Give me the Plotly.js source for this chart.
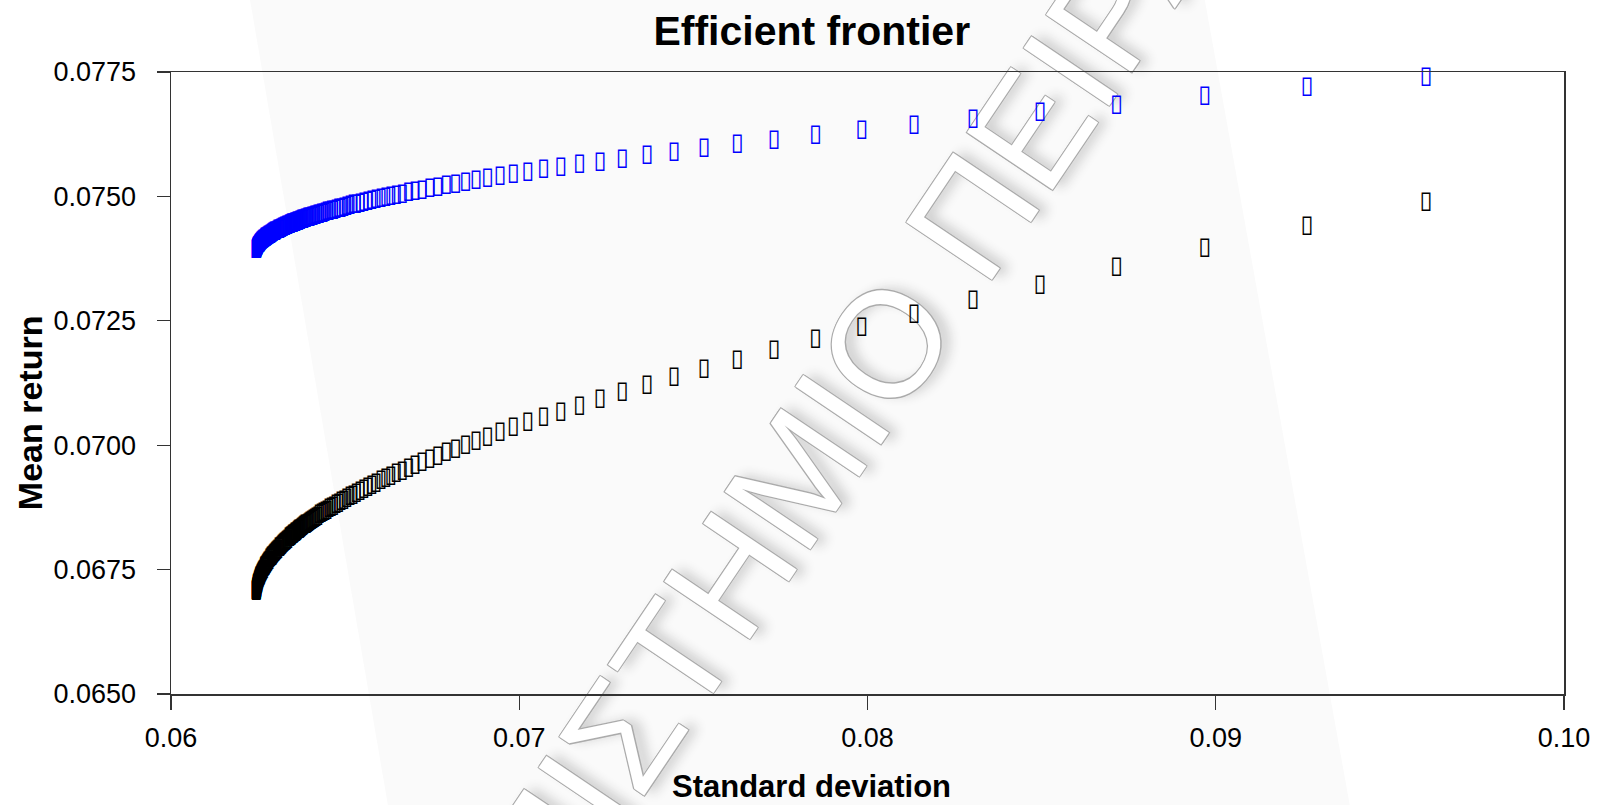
<!DOCTYPE html>
<html>
<head>
<meta charset="utf-8">
<script src="https://cdn.plot.ly/plotly-3.0.1.min.js"></script>
<style>
  html, body { margin: 0; padding: 0; background: #ffffff; }
  #chart { width: 1598px; height: 805px; }
</style>
</head>
<body>
<div id="chart"></div>
<script>
// Portfolio standard deviation shared by both frontier branches
const stdDev = [
  0.096038, 0.09262, 0.089689, 0.087156, 0.084955, 0.08303, 0.081335, 0.07984, 0.07851, 0.07732,
  0.07626, 0.075306, 0.074445, 0.07367, 0.07296, 0.07232, 0.07173, 0.071195, 0.0707, 0.07025,
  0.069834, 0.06945, 0.06909, 0.06876, 0.068457, 0.068176, 0.06791, 0.06766, 0.06743, 0.06721,
  0.06701, 0.06682, 0.06664, 0.06647, 0.066316, 0.066167, 0.06603, 0.06589, 0.06577, 0.06565,
  0.06554, 0.06543, 0.065326, 0.06523, 0.06514, 0.065048, 0.064965, 0.064886, 0.06481, 0.064738,
  0.064669, 0.064604, 0.064541, 0.06448, 0.064422, 0.064367, 0.064314, 0.064263, 0.064214, 0.064167,
  0.064122, 0.064079, 0.064037, 0.063997, 0.063958, 0.063921, 0.063885, 0.06385, 0.063817, 0.063785,
  0.063754, 0.063724, 0.063695, 0.063667, 0.063639, 0.063613, 0.063588, 0.063563, 0.063539, 0.063516,
  0.063494, 0.063472, 0.063451, 0.063431, 0.063411, 0.063392, 0.063355, 0.063321, 0.063288, 0.063257,
  0.063228, 0.0632, 0.063174, 0.063149, 0.063125, 0.063103, 0.063071, 0.063041, 0.063014, 0.062988,
  0.062964, 0.062942, 0.062921, 0.062901, 0.062882, 0.062865, 0.062838, 0.062814, 0.062791, 0.062771,
  0.062752, 0.062735, 0.06272, 0.062705, 0.062692, 0.062679, 0.062657, 0.062638, 0.062621, 0.062606,
  0.062593, 0.062582, 0.062572, 0.062562, 0.062554, 0.062547, 0.062534, 0.062523, 0.062514, 0.062506,
  0.0625, 0.062494, 0.06249, 0.062485, 0.062482, 0.062478, 0.062473, 0.062469, 0.062465, 0.062462,
  0.06246, 0.062457, 0.062454, 0.062452, 0.062451, 0.06245
];

// Mean return, upper (blue) branch
const meanUpper = [
  0.077399, 0.077193, 0.07701, 0.076846, 0.076698, 0.076565, 0.076443, 0.076332, 0.07623, 0.076137,
  0.07605, 0.07597, 0.075895, 0.075826, 0.075761, 0.075701, 0.075644, 0.075591, 0.075541, 0.075493,
  0.075449, 0.075406, 0.075366, 0.075328, 0.075292, 0.075258, 0.075225, 0.075194, 0.075164, 0.075135,
  0.075108, 0.075082, 0.075057, 0.075033, 0.07501, 0.074988, 0.074966, 0.074946, 0.074926, 0.074907,
  0.074889, 0.074871, 0.074854, 0.074838, 0.074822, 0.074806, 0.074791, 0.074777, 0.074763, 0.074749,
  0.074736, 0.074723, 0.074711, 0.074699, 0.074687, 0.074676, 0.074665, 0.074654, 0.074643, 0.074633,
  0.074623, 0.074614, 0.074604, 0.074595, 0.074586, 0.074577, 0.074569, 0.074561, 0.074553, 0.074545,
  0.074537, 0.074529, 0.074522, 0.074515, 0.074508, 0.074501, 0.074494, 0.074487, 0.074481, 0.074475,
  0.074468, 0.074462, 0.074456, 0.074451, 0.074445, 0.074439, 0.074428, 0.074418, 0.074408, 0.074398,
  0.074389, 0.07438, 0.074371, 0.074363, 0.074354, 0.074347, 0.074335, 0.074325, 0.074314, 0.074304,
  0.074295, 0.074286, 0.074277, 0.074269, 0.074261, 0.074254, 0.074242, 0.07423, 0.07422, 0.07421,
  0.0742, 0.074192, 0.074183, 0.074175, 0.074168, 0.07416, 0.074147, 0.074135, 0.074124, 0.074114,
  0.074104, 0.074096, 0.074088, 0.07408, 0.074073, 0.074067, 0.074055, 0.074045, 0.074036, 0.074027,
  0.07402, 0.074013, 0.074007, 0.074002, 0.073996, 0.073992, 0.073983, 0.073976, 0.07397, 0.073964,
  0.07396, 0.073953, 0.073948, 0.073943, 0.073939, 0.073935
];

// Mean return, lower (black) branch
const meanLower = [
  0.074896, 0.074399, 0.073962, 0.073572, 0.073224, 0.072911, 0.072627, 0.072369, 0.072134, 0.071918,
  0.071719, 0.071536, 0.071367, 0.071209, 0.071062, 0.070925, 0.070797, 0.070677, 0.070564, 0.070458,
  0.070358, 0.070264, 0.070174, 0.07009, 0.070009, 0.069933, 0.06986, 0.069791, 0.069725, 0.069662,
  0.069602, 0.069544, 0.069489, 0.069437, 0.069386, 0.069337, 0.069291, 0.069246, 0.069202, 0.069161,
  0.069121, 0.069082, 0.069045, 0.069009, 0.068974, 0.06894, 0.068908, 0.068876, 0.068846, 0.068816,
  0.068788, 0.06876, 0.068733, 0.068707, 0.068681, 0.068657, 0.068633, 0.068609, 0.068587, 0.068565,
  0.068543, 0.068522, 0.068502, 0.068482, 0.068463, 0.068444, 0.068426, 0.068408, 0.06839, 0.068373,
  0.068356, 0.06834, 0.068324, 0.068309, 0.068293, 0.068278, 0.068264, 0.06825, 0.068236, 0.068222,
  0.068209, 0.068196, 0.068183, 0.06817, 0.068158, 0.068146, 0.068123, 0.0681, 0.068079, 0.068058,
  0.068038, 0.068019, 0.068, 0.067982, 0.067964, 0.067948, 0.067923, 0.0679, 0.067878, 0.067857,
  0.067837, 0.067818, 0.0678, 0.067782, 0.067765, 0.067749, 0.067724, 0.067699, 0.067677, 0.067656,
  0.067636, 0.067617, 0.067599, 0.067582, 0.067566, 0.067551, 0.067522, 0.067496, 0.067473, 0.067451,
  0.067431, 0.067413, 0.067396, 0.06738, 0.067366, 0.067352, 0.067327, 0.067305, 0.067286, 0.067268,
  0.067253, 0.067239, 0.067226, 0.067214, 0.067203, 0.067193, 0.067176, 0.06716, 0.067147, 0.067136,
  0.067125, 0.067112, 0.0671, 0.06709, 0.067082, 0.067074
];

const xTickVals = [0.06, 0.07, 0.08, 0.09, 0.10];
const xTickText = ['0.06', '0.07', '0.08', '0.09', '0.10'];
const yTickVals = [0.0650, 0.0675, 0.0700, 0.0725, 0.0750, 0.0775];
const yTickText = ['0.0650', '0.0675', '0.0700', '0.0725', '0.0750', '0.0775'];

const chartTitle = 'Efficient frontier';
const xTitle = 'Standard deviation';
const yTitle = 'Mean return';
const watermark = 'ΠΑΝΕΠΙΣΤΗΜΙΟ ΠΕΙΡΑΙΩΣ';

// hollow upright rectangle used as the point symbol
const BOX = '\u25AF';
const boxes = n => Array(n).fill(BOX);

const sans = "'Liberation Sans', Arial, sans-serif";

const traces = [
  {
    type: 'scatter', mode: 'text', name: 'upper',
    x: stdDev, y: meanUpper, text: boxes(stdDev.length),
    textposition: 'middle center',
    textfont: { family: 'DejaVu Sans', size: 24, color: '#0000ff' },
    hoverinfo: 'skip', cliponaxis: false
  },
  {
    type: 'scatter', mode: 'text', name: 'lower',
    x: stdDev, y: meanLower, text: boxes(stdDev.length),
    textposition: 'middle center',
    textfont: { family: 'DejaVu Sans', size: 24, color: '#000000' },
    hoverinfo: 'skip', cliponaxis: false
  }
];

const layout = {
  width: 1598, height: 805,
  margin: { l: 171, r: 34, t: 72, b: 111 },
  paper_bgcolor: '#ffffff',
  plot_bgcolor: 'rgba(0,0,0,0)',
  showlegend: false,
  title: {
    text: chartTitle,
    x: 0.46, xref: 'paper', xanchor: 'center',
    y: 0.962, yref: 'container', yanchor: 'middle',
    font: { family: sans, size: 41, color: '#000000', weight: 'bold' }
  },
  xaxis: {
    range: [0.06, 0.10], tickvals: xTickVals, ticktext: xTickText,
    ticks: 'outside', ticklen: 14, tickwidth: 1.3, tickcolor: '#333333',
    showline: true, linecolor: '#333333', linewidth: 1.5, mirror: true,
    showgrid: false, zeroline: false, ticklabelstandoff: 5,
    tickfont: { family: sans, size: 27, color: '#000000' }
  },
  yaxis: {
    range: [0.0650, 0.0775], tickvals: yTickVals, ticktext: yTickText,
    ticks: 'outside', ticklen: 13, tickwidth: 1.3, tickcolor: '#333333',
    showline: true, linecolor: '#333333', linewidth: 1.5, mirror: true,
    showgrid: false, zeroline: false, ticklabelstandoff: 15,
    tickfont: { family: sans, size: 27, color: '#000000' }
  },
  annotations: [
    {
      text: xTitle, xref: 'paper', yref: 'paper', x: 0.46, y: -0.148,
      xanchor: 'center', yanchor: 'middle', showarrow: false,
      font: { family: sans, size: 31, color: '#000000', weight: 'bold' }
    },
    {
      text: yTitle, xref: 'paper', yref: 'paper', x: -0.101, y: 0.452,
      xanchor: 'center', yanchor: 'middle', showarrow: false, textangle: -90,
      font: { family: sans, size: 34, color: '#000000', weight: 'bold' }
    }
  ],
  shapes: [
    // faint diagonal band behind the plot
    {
      type: 'path', xref: 'paper', yref: 'paper', layer: 'below',
      path: 'M0.0567,1.1163 L0.7421,1.1163 L0.8462,-0.1785 L0.1557,-0.1785 Z',
      fillcolor: '#fafafa', line: { width: 0 }
    },
    // outlined diagonal watermark lettering
    {
      type: 'line', xref: 'paper', yref: 'paper', layer: 'below',
      x0: 0.3245, y0: -0.0241, x1: 0.5656, y1: 0.7769,
      line: { color: 'rgba(0,0,0,0)', width: 1 },
      label: {
        text: watermark, textangle: 'auto', textposition: 'middle',
        xanchor: 'center', yanchor: 'middle',
        font: {
          family: sans, size: 150, color: '#ffffff',
          shadow: '-1px -1px 0 #ababab, 1px -1px 0 #ababab, -1px 1px 0 #ababab, 1px 1px 0 #ababab, 7px 7px 12px #cfcfcf'
        }
      }
    }
  ]
};

Plotly.newPlot('chart', traces, layout, { staticPlot: true, displayModeBar: false });
</script>
</body>
</html>
